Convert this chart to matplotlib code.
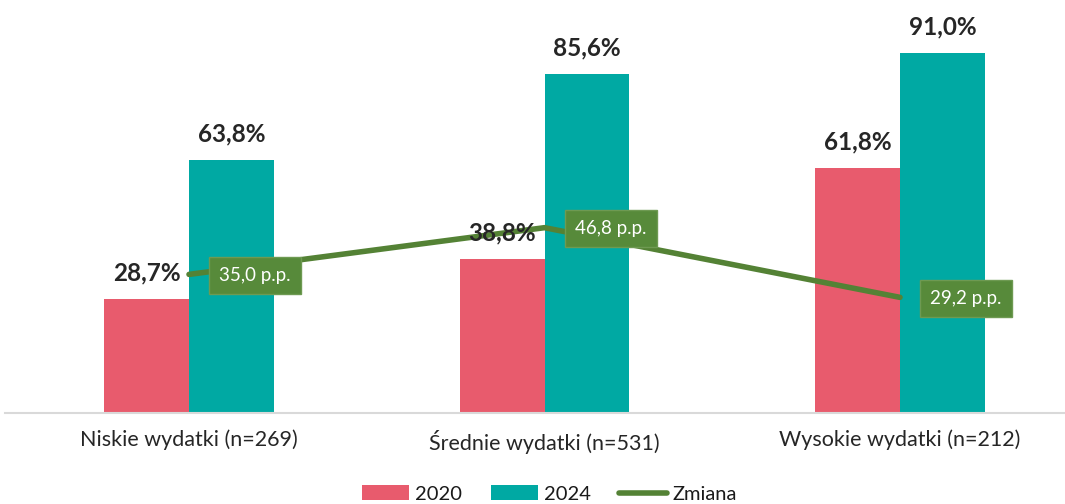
import matplotlib
matplotlib.use("Agg")
import matplotlib.pyplot as plt
import numpy as np

categories = ["Niskie wydatki (n=269)", "Średnie wydatki (n=531)", "Wysokie wydatki (n=212)"]
values_2020 = [28.7, 38.8, 61.8]
values_2024 = [63.8, 85.6, 91.0]
change = [35.0, 46.8, 29.2]
series_names = ["2020", "2024", "Zmiana"]

c2020 = "#E85B6D"
c2024 = "#00A9A3"
cline = "#548235"

plt.rcParams['font.family'] = ['Lato', 'DejaVu Sans']

W, H = 1065, 504
fig = plt.figure(figsize=(W / 100, H / 100), dpi=100)
left_px, right_px, bottom_px, top_px = 5, 1064, 413, 17
ax = fig.add_axes([left_px / W, 1 - bottom_px / H, (right_px - left_px) / W, (bottom_px - top_px) / H])

x = np.arange(len(categories))
bw = 0.239
h1 = ax.bar(x - bw / 2, values_2020, bw, color=c2020, label=series_names[0], zorder=2)
h2 = ax.bar(x + bw / 2, values_2024, bw, color=c2024, label=series_names[1], zorder=2)
h3, = ax.plot(x, change, color=cline, lw=4, label=series_names[2], zorder=3, solid_capstyle='round')

px_per_unit = 355.5
ax.set_xlim((left_px - 189) / px_per_unit, (right_px - 189) / px_per_unit)
ax.set_ylim(0, 100)

def fmt(v):
    return f"{v:.1f}".replace(".", ",")

for xs, vals in ((x - bw / 2, values_2020), (x + bw / 2, values_2024)):
    for xi, v in zip(xs, vals):
        ax.annotate(fmt(v) + "%", (xi, v), xytext=(0, 26), textcoords="offset pixels",
                    ha="center", va="center", fontsize=17.5, fontweight="bold", color="#262626", zorder=5)

for xi, v in zip(x, change):
    ax.annotate(fmt(v) + " p.p.", (xi, v), xytext=(66, -1), textcoords="offset pixels",
                ha="center", va="center", fontsize=13.5, color="white", zorder=6,
                bbox=dict(boxstyle="square,pad=0.55", fc="#578A3A", ec="#6E9A52", lw=1))

for s in ["top", "right", "left"]:
    ax.spines[s].set_visible(False)
ax.spines["bottom"].set_color("#D9D9D9")
ax.spines["bottom"].set_linewidth(1.5)
ax.set_yticks([])
ax.set_xticks(x)
ax.set_xticklabels(categories, fontsize=15.5, color="#262626")
ax.tick_params(axis="x", length=0, pad=12)

leg = fig.legend([h1, h2, h3], series_names, loc="center", bbox_to_anchor=(0.516, 1 - 494 / H), ncol=3,
                 frameon=False, fontsize=14.5, handlelength=2.35, handleheight=0.75, columnspacing=1.4,
                 handletextpad=0.3, labelcolor="#1a1a1a")

fig.savefig("out.png", dpi=100)
